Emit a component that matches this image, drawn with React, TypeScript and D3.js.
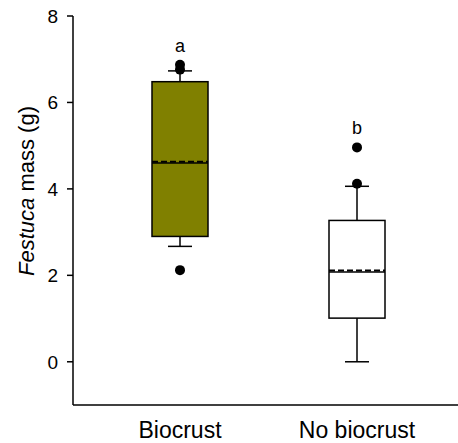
import React from 'react';
import * as d3 from 'd3';

const categories = ['Biocrust', 'No biocrust'];
const q1 = [2.9, 1.01];
const medians = [4.6, 2.08];
const means = [4.63, 2.11];
const q3 = [6.48, 3.27];
const whiskerLow = [2.67, 0];
const whiskerHigh = [6.73, 4.06];
const outliers = [[2.12, 6.76, 6.87], [4.12, 4.96]];
const letters = ['a', 'b'];
const fills = ['#808000', '#ffffff'];
const yTicks = [0, 2, 4, 6, 8];

const W = 458;
const H = 443;
const margin = { left: 73, top: 16, bottom: 405 };
const font = 'Liberation Sans, Arial, sans-serif';

export default function App() {
  const y = d3.scaleLinear().domain([-1, 8]).range([margin.bottom, margin.top]);
  const x = d3.scalePoint().domain(categories).range([180, 357]);
  const boxW = 56;
  const capW = 24;

  return (
    <svg width={W} height={H} style={{ position: 'absolute', left: 0, top: 0 }} fontFamily={font}>
      {/* axes */}
      <line x1={margin.left} x2={margin.left} y1={margin.top} y2={margin.bottom} stroke="#000" strokeWidth={1.5} />
      <line x1={margin.left} x2={W} y1={margin.bottom} y2={margin.bottom} stroke="#000" strokeWidth={1.5} />
      {yTicks.map(t => (
        <g key={t}>
          <line x1={margin.left - 6} x2={margin.left} y1={y(t)} y2={y(t)} stroke="#000" strokeWidth={1.5} />
          <text x={margin.left - 15} y={y(t)} dy="0.36em" textAnchor="end" fontSize={19}>{t}</text>
        </g>
      ))}
      <text transform={`translate(34,191) rotate(-90)`} textAnchor="middle" fontSize={22}>
        <tspan fontStyle="italic">Festuca</tspan> mass (g)
      </text>
      {categories.map((c, i) => {
        const cx = x(c)!;
        return (
          <g key={c}>
            <line x1={cx} x2={cx} y1={y(whiskerLow[i])} y2={y(q1[i])} stroke="#000" strokeWidth={1.5} />
            <line x1={cx} x2={cx} y1={y(q3[i])} y2={y(whiskerHigh[i])} stroke="#000" strokeWidth={1.5} />
            <line x1={cx - capW / 2} x2={cx + capW / 2} y1={y(whiskerLow[i])} y2={y(whiskerLow[i])} stroke="#000" strokeWidth={1.5} />
            <line x1={cx - capW / 2} x2={cx + capW / 2} y1={y(whiskerHigh[i])} y2={y(whiskerHigh[i])} stroke="#000" strokeWidth={1.5} />
            <rect x={cx - boxW / 2} width={boxW} y={y(q3[i])} height={y(q1[i]) - y(q3[i])} fill={fills[i]} stroke="#000" strokeWidth={1.5} />
            <line x1={cx - boxW / 2} x2={cx + boxW / 2} y1={y(medians[i])} y2={y(medians[i])} stroke="#000" strokeWidth={1.5} />
            <line x1={cx - boxW / 2} x2={cx + boxW / 2} y1={y(means[i])} y2={y(means[i])} stroke="#000" strokeWidth={2} strokeDasharray="6 3" />
            {outliers[i].map((v, k) => (
              <circle key={k} cx={cx} cy={y(v)} r={5} fill="#000" />
            ))}
            <text x={cx} y={y(d3.max(outliers[i].concat(whiskerHigh[i]))!) - 13} textAnchor="middle" fontSize={18}>{letters[i]}</text>
            <text x={cx} y={438} textAnchor="middle" fontSize={23}>{c}</text>
          </g>
        );
      })}
    </svg>
  );
}
